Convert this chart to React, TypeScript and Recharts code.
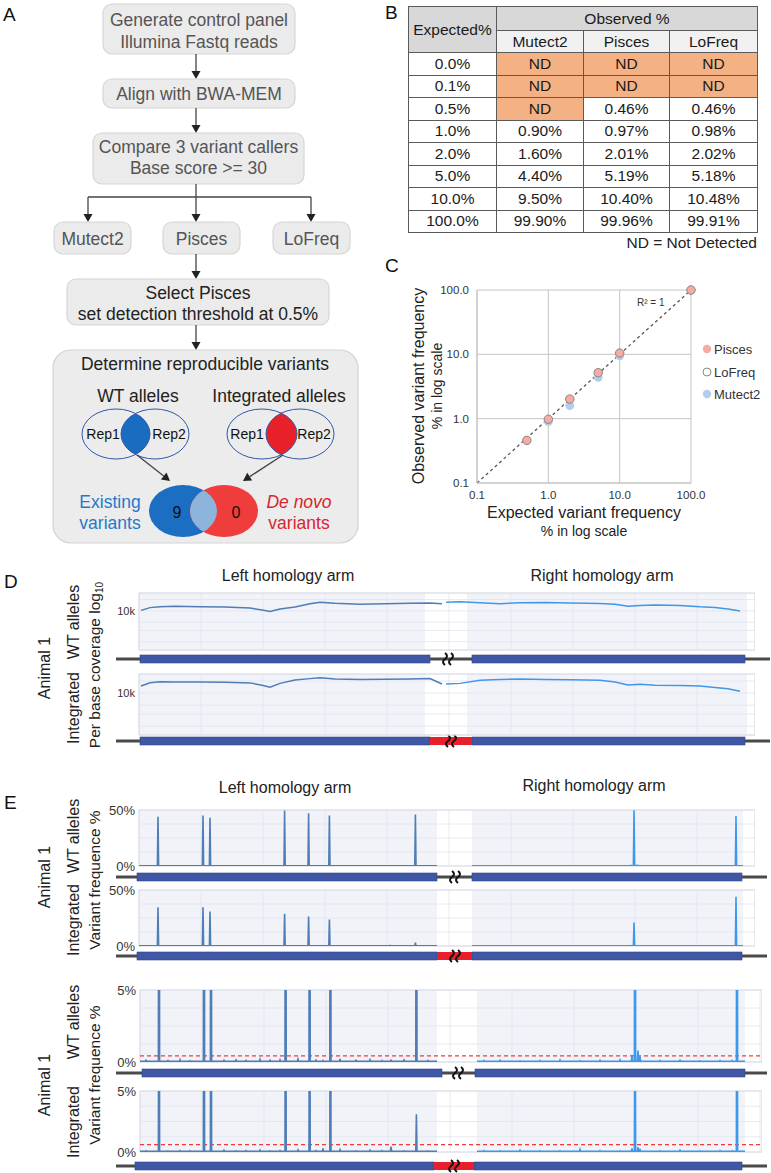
import React from 'react';
import {
  LineChart,
  Line,
  XAxis,
  YAxis,
  CartesianGrid,
  ReferenceArea,
  ReferenceLine,
  ScatterChart,
  Scatter,
} from 'recharts';

const FONT = '"Liberation Sans", Arial, Helvetica, sans-serif';
const NARROW = '"Liberation Sans Narrow", "Arial Narrow", "Liberation Sans", Arial, sans-serif';

// ---- B / C : spike-in control panel ----
const expectedPct = [0.0, 0.1, 0.5, 1.0, 2.0, 5.0, 10.0, 100.0];
const mutect2Obs = [null, null, null, 0.9, 1.6, 4.4, 9.5, 99.9];
const piscesObs = [null, null, 0.46, 0.97, 2.01, 5.19, 10.4, 99.96];
const lofreqObs = [null, null, 0.46, 0.98, 2.02, 5.18, 10.48, 99.91];
const logTicks = [0.1, 1, 10, 100];

// ---- D : per base coverage (positions in bp, coverage in thousands) ----
const covLeftPos = [10, 55, 105, 180, 305, 430, 555, 615, 655, 705, 780, 855, 905, 980, 1105, 1230, 1355, 1455, 1515];
const covWtLeftK = [10.3, 12.2, 12.9, 13.3, 12.9, 12.6, 11.9, 10.6, 9.6, 11.2, 12.6, 15.4, 17.0, 16.0, 15.1, 15.5, 16.0, 16.3, 15.6];
const covIntLeftK = [15.1, 18.2, 19.3, 19.0, 18.9, 18.7, 18.0, 15.8, 14.0, 17.5, 21.2, 23.0, 24.3, 22.4, 21.8, 22.2, 22.6, 23.0, 16.9];
const covRightPos = [1535, 1605, 1705, 1805, 1905, 2030, 2155, 2305, 2380, 2445, 2505, 2580, 2705, 2805, 2880, 2945, 3005];
const covWtRightK = [17.0, 17.6, 16.4, 15.6, 16.5, 16.8, 16.3, 15.8, 15.0, 13.2, 13.8, 14.3, 14.0, 12.8, 12.3, 11.2, 9.9];
const covIntRightK = [16.9, 17.5, 21.0, 21.8, 22.4, 22.0, 21.6, 21.0, 19.0, 15.9, 16.6, 15.8, 15.5, 15.0, 13.8, 12.8, 11.2];
const covTicks = [1500, 3000, 5000, 10000, 20000];

// ---- E : variant frequency % ----
const leftSpikePos = [95, 320, 355, 728, 848, 952, 1382];
const rightSpikePos = [2475, 2985];
const wtSpikeLeft = [44, 45, 43, 49.5, 47, 45, 46];
const wtSpikeRight = [49.7, 44.7];
const intSpikeLeft = [34.6, 34.6, 30.8, 28.8, 26.3, 23.7, 3.1];
const intSpikeRight = [21, 44];
const leftNoisePos = [30, 140, 200, 250, 420, 480, 530, 600, 650, 700, 790, 880, 915, 1000, 1080, 1150, 1210, 1255, 1320, 1440];
const wtNoiseLeft = [0.12, 0.1, 0.16, 0.09, 0.12, 0.14, 0.11, 0.18, 0.12, 0.15, 0.2, 0.13, 0.1, 0.22, 0.12, 0.16, 0.1, 0.12, 0.14, 0.1];
const intNoiseLeft = [0.1, 0.08, 0.12, 0.1, 0.14, 0.1, 0.12, 0.15, 0.1, 0.12, 0.16, 0.12, 0.3, 0.18, 0.1, 0.14, 0.12, 0.45, 0.1, 0.08];
const rightNoisePos = [1720, 1800, 1900, 2000, 2100, 2200, 2300, 2400, 2460, 2490, 2500, 2600, 2700, 2800, 2900, 2960];
const wtNoiseRight = [0.1, 0.12, 0.08, 0.1, 0.14, 0.09, 0.12, 0.15, 0.5, 0.8, 0.4, 0.1, 0.12, 0.08, 0.1, 0.1];
const intNoiseRight = [0.12, 0.1, 0.14, 0.1, 0.1, 0.22, 0.12, 0.1, 0.3, 0.4, 0.25, 0.1, 0.14, 0.1, 0.12, 0.1];
const pct50Ticks = [0, 12.5, 25, 37.5, 50];
const pct5Ticks = [0, 1.25, 2.5, 3.75, 5];
const wtThreshold = 0.42;
const intThreshold = 0.6;

const gridTicks = [0, 310, 620, 930, 1240, 1550, 1860, 2170, 2480, 2790, 3100];

const LEFT_COLOR = '#4f7db6';
const RIGHT_COLOR = '#3e98ea';

const coverage = (lk: number[], rk: number[]) => [
  ...covLeftPos.map((p, i) => ({ pos: p, left: lk[i] * 1000 })),
  ...covRightPos.map((p, i) => ({ pos: p, right: rk[i] * 1000 })),
];

function buildArm(start: number, end: number, base: number, pos: number[], val: number[], key: string) {
  const ev = pos.map((p, i) => [p, val[i]]).sort((a, b) => a[0] - b[0]);
  const out: any[] = [{ pos: start, [key]: base }];
  ev.forEach(([p, v]) => {
    out.push({ pos: p - 3, [key]: base }, { pos: p, [key]: v }, { pos: p + 3, [key]: base });
  });
  out.push({ pos: end, [key]: base });
  return out;
}

function variants(armL: number[], armR: number[], base: number, sl: number[], sr: number[], nl: number[], nr: number[]) {
  return [
    ...buildArm(armL[0], armL[1], base, [...leftSpikePos, ...leftNoisePos], [...sl, ...nl], 'left'),
    ...buildArm(armR[0], armR[1], base, [...rightSpikePos, ...rightNoisePos], [...sr, ...nr], 'right'),
  ];
}

const fmtCov = (v: number) => (v === 10000 ? '10k' : '');
const fmt50 = (v: number) => (v === 0 ? '0%' : v === 50 ? '50%' : '');
const fmt5 = (v: number) => (v === 0 ? '0%' : v === 5 ? '5%' : '');

function Track(p: any) {
  const pad = 8;
  const axisW = 44;
  const chartLeft = p.plotLeft - axisW;
  return (
    <div style={{ position: 'absolute', left: chartLeft, top: p.top - pad }}>
      <LineChart
        width={p.plotRight - chartLeft}
        height={p.height + pad * 2}
        data={p.data}
        margin={{ top: pad, right: 0, bottom: pad, left: 0 }}
      >
        <CartesianGrid stroke="#e1e5ed" strokeWidth={0.8} />
        <ReferenceArea x1={p.shadeL[0]} x2={p.shadeL[1]} fill="#dfe5f2" fillOpacity={0.45} strokeOpacity={0} />
        <ReferenceArea x1={p.shadeR[0]} x2={p.shadeR[1]} fill="#dfe5f2" fillOpacity={0.45} strokeOpacity={0} />
        <XAxis type="number" dataKey="pos" domain={[0, p.xMax]} ticks={gridTicks} hide />
        <YAxis
          type="number"
          scale={p.log ? 'log' : 'auto'}
          domain={p.yDomain}
          ticks={p.yTicks}
          tickFormatter={p.fmt}
          allowDataOverflow
          axisLine={false}
          tickLine={false}
          tickSize={3}
          tickMargin={1}
          width={axisW}
          interval={0}
          tick={{ fontSize: p.log ? 11 : 13, fill: '#333', fontFamily: p.log ? FONT : NARROW }}
        />
        {p.threshold !== undefined && (
          <ReferenceLine y={p.threshold} stroke="#f23a3a" strokeDasharray="4 3" strokeWidth={1.2} />
        )}
        <Line dataKey="left" stroke={LEFT_COLOR} strokeWidth={p.log ? 1.5 : 1.6} dot={false} isAnimationActive={false} />
        <Line dataKey="right" stroke={RIGHT_COLOR} strokeWidth={p.log ? 1.5 : 1.6} dot={false} isAnimationActive={false} />
        <ReferenceArea x1={0} x2={p.xMax} fill="none" stroke="#d8dce3" strokeWidth={1} />
      </LineChart>
    </div>
  );
}

function Arrow({ x1, y1, x2, y2 }: any) {
  const a = Math.atan2(y2 - y1, x2 - x1);
  const L = 8;
  const W = 4.5;
  const bx = x2 - L * Math.cos(a);
  const by = y2 - L * Math.sin(a);
  const px = -Math.sin(a) * W;
  const py = Math.cos(a) * W;
  return (
    <g>
      <line x1={x1} y1={y1} x2={bx} y2={by} stroke="#444" strokeWidth={1.3} />
      <polygon points={`${x2},${y2} ${bx + px},${by + py} ${bx - px},${by - py}`} fill="#222" />
    </g>
  );
}

function Box({ x, y, w, h, lines, ys, color = '#555' }: any) {
  return (
    <g>
      <rect x={x} y={y} width={w} height={h} rx={9} fill="#ebebeb" stroke="#d6d6d6" strokeWidth={1.2} />
      {lines.map((t: string, i: number) => (
        <text key={i} x={x + w / 2} y={ys[i]} textAnchor="middle" fontSize={17.5} fill={color}>
          {t}
        </text>
      ))}
    </g>
  );
}

function Squiggle({ x, y }: any) {
  const s = (dx: number) => `M${x + dx},${y - 6} q4,3 0,6 q-4,3 0,6`;
  return (
    <g fill="none" stroke="#111" strokeWidth={2}>
      <path d={s(-3)} />
      <path d={s(3)} />
    </g>
  );
}

const genomeBars = [
  { y: 659, a: 116, b: 770, l0: 140, l1: 430, r0: 472, r1: 745, ins: false, sq: 448 },
  { y: 741, a: 116, b: 770, l0: 140, l1: 430, r0: 472, r1: 745, ins: true, sq: 451 },
  { y: 877, a: 116, b: 767, l0: 137, l1: 437, r0: 472, r1: 742, ins: false, sq: 455 },
  { y: 956, a: 116, b: 767, l0: 137, l1: 437, r0: 472, r1: 742, ins: true, sq: 455 },
  { y: 1073, a: 116, b: 767, l0: 142, l1: 442, r0: 475, r1: 745, ins: false, sq: 458 },
  { y: 1166, a: 116, b: 767, l0: 135, l1: 434, r0: 474, r1: 742, ins: true, sq: 454 },
];

function RotText({ x, y, size = 16, children }: any) {
  return (
    <text x={x} y={y} transform={`rotate(-90 ${x} ${y})`} textAnchor="middle" fontSize={size} fill="#222">
      {children}
    </text>
  );
}

function Overlay() {
  return (
    <svg width={771} height={1173} style={{ position: 'absolute', left: 0, top: 0 }} fontFamily={FONT}>
      <defs>
        <clipPath id="wtR"><ellipse cx={155} cy={434} rx={34} ry={25} /></clipPath>
        <clipPath id="intR"><ellipse cx={300} cy={434} rx={34} ry={25} /></clipPath>
        <clipPath id="sumB"><ellipse cx={183} cy={511} rx={34} ry={26} /></clipPath>
      </defs>
      {/* panel labels */}
      <text x={3} y={21} fontSize={19} fill="#111">A</text>
      <text x={385} y={19} fontSize={19} fill="#111">B</text>
      <text x={385} y={272} fontSize={19} fill="#111">C</text>
      <text x={4} y={588} fontSize={19} fill="#111">D</text>
      <text x={4} y={809} fontSize={19} fill="#111">E</text>

      {/* A: workflow */}
      <Box x={103} y={4} w={192} h={50} lines={['Generate control panel', 'Illumina Fastq reads']} ys={[26, 48]} />
      <Arrow x1={196} y1={54} x2={196} y2={79} />
      <Box x={103} y={79} w={192} h={29} lines={['Align with BWA-MEM']} ys={[100]} />
      <Arrow x1={196} y1={108} x2={196} y2={133} />
      <Box x={93} y={133} w={211} h={51} lines={['Compare 3 variant callers', 'Base score >= 30']} ys={[153, 174]} />
      <line x1={196} y1={184} x2={196} y2={197} stroke="#444" strokeWidth={1.3} />
      <line x1={88} y1={197} x2={311} y2={197} stroke="#444" strokeWidth={1.3} />
      <Arrow x1={88} y1={197} x2={88} y2={222} />
      <Arrow x1={196} y1={197} x2={196} y2={222} />
      <Arrow x1={311} y1={197} x2={311} y2={222} />
      <Box x={54} y={222} w={77} h={32} lines={['Mutect2']} ys={[245]} />
      <Box x={163} y={222} w={77} h={32} lines={['Pisces']} ys={[245]} />
      <Box x={273} y={222} w={77} h={32} lines={['LoFreq']} ys={[245]} />
      <Arrow x1={196} y1={254} x2={196} y2={279} />
      <Box x={67} y={279} w={262} h={46} lines={['Select Pisces', 'set detection threshold at 0.5%']} ys={[299, 320]} color="#222" />
      <Arrow x1={196} y1={325} x2={196} y2={350} />
      <rect x={53} y={350} width={305} height={193} rx={18} fill="#ececec" stroke="#d3d3d3" strokeWidth={1.2} />
      <text x={205} y={370} textAnchor="middle" fontSize={17.5} fill="#222">Determine reproducible variants</text>
      <text x={138} y={402} textAnchor="middle" fontSize={17.5} fill="#222">WT alleles</text>
      <text x={279} y={402} textAnchor="middle" fontSize={17.5} fill="#222">Integrated alleles</text>
      {/* WT venn */}
      <ellipse cx={116} cy={434} rx={34} ry={25} fill="#1a6cc0" clipPath="url(#wtR)" />
      <ellipse cx={116} cy={434} rx={34} ry={25} fill="none" stroke="#2f58a8" strokeWidth={1} />
      <ellipse cx={155} cy={434} rx={34} ry={25} fill="none" stroke="#2f58a8" strokeWidth={1} />
      <text x={103} y={439} textAnchor="middle" fontSize={14} fill="#111">Rep1</text>
      <text x={169} y={439} textAnchor="middle" fontSize={14} fill="#111">Rep2</text>
      {/* Integrated venn */}
      <ellipse cx={262} cy={434} rx={35} ry={25} fill="#e8202a" clipPath="url(#intR)" />
      <ellipse cx={262} cy={434} rx={35} ry={25} fill="none" stroke="#2f58a8" strokeWidth={1} />
      <ellipse cx={300} cy={434} rx={34} ry={25} fill="none" stroke="#2f58a8" strokeWidth={1} />
      <text x={247} y={439} textAnchor="middle" fontSize={14} fill="#111">Rep1</text>
      <text x={314} y={439} textAnchor="middle" fontSize={14} fill="#111">Rep2</text>
      <Arrow x1={137} y1={455} x2={170} y2={481} />
      <Arrow x1={283} y1={455} x2={243} y2={481} />
      {/* summary venn */}
      <ellipse cx={183} cy={511} rx={34} ry={26} fill="#1b6ec2" />
      <ellipse cx={224} cy={511} rx={34} ry={26} fill="#ee3d3a" />
      <ellipse cx={224} cy={511} rx={34} ry={26} fill="#8db4da" clipPath="url(#sumB)" />
      <text x={177} y={518} textAnchor="middle" fontSize={16} fill="#111">9</text>
      <text x={236} y={518} textAnchor="middle" fontSize={16} fill="#111">0</text>
      <text x={110} y={508} textAnchor="middle" fontSize={17.5} fill="#1f7ac9">Existing</text>
      <text x={110} y={529} textAnchor="middle" fontSize={17.5} fill="#1f7ac9">variants</text>
      <text x={299} y={508} textAnchor="middle" fontSize={17.5} fill="#d8252e" fontStyle="italic">De novo</text>
      <text x={299} y={529} textAnchor="middle" fontSize={17.5} fill="#d8252e">variants</text>

      {/* B note */}
      <text x={757} y={248} textAnchor="end" fontSize={15.5} fill="#222">ND = Not Detected</text>

      {/* C titles and legend */}
      <RotText x={424} y={386} size={16}>Observed variant frequency</RotText>
      <RotText x={442} y={386} size={14}>% in log scale</RotText>
      <text x={584} y={518} textAnchor="middle" fontSize={16} fill="#222">Expected variant frequency</text>
      <text x={584} y={536} textAnchor="middle" fontSize={14} fill="#222">% in log scale</text>
      <text x={637} y={306} fontSize={10} fill="#333">R² = 1</text>
      <circle cx={707} cy={349} r={4.2} fill="#f6aca3" />
      <text x={714} y={354} fontSize={13} fill="#333">Pisces</text>
      <circle cx={707} cy={372} r={4} fill="none" stroke="#888" strokeWidth={1} />
      <text x={714} y={377} fontSize={13} fill="#333">LoFreq</text>
      <circle cx={707} cy={394} r={4.2} fill="#b3cdec" />
      <text x={714} y={399} fontSize={13} fill="#333">Mutect2</text>

      {/* D / E headings */}
      <text x={288} y={581} textAnchor="middle" fontSize={16} fill="#222">Left homology arm</text>
      <text x={602} y={581} textAnchor="middle" fontSize={16} fill="#222">Right homology arm</text>
      <text x={285} y={793} textAnchor="middle" fontSize={16} fill="#222">Left homology arm</text>
      <text x={594} y={791} textAnchor="middle" fontSize={16} fill="#222">Right homology arm</text>

      <RotText x={50} y={668} size={16}>Animal 1</RotText>
      <RotText x={79} y={622} size={16}>WT alleles</RotText>
      <RotText x={79} y={708} size={16}>Integrated</RotText>
      <text x={100} y={665} transform="rotate(-90 100 665)" textAnchor="middle" fontSize={15.5} fill="#222">
        Per base coverage log<tspan fontSize={10} dy={3}>10</tspan>
      </text>

      <RotText x={50} y={877} size={16}>Animal 1</RotText>
      <RotText x={79} y={836} size={16}>WT alleles</RotText>
      <RotText x={79} y={920} size={16}>Integrated</RotText>
      <RotText x={100} y={880} size={15.5}>Variant frequence %</RotText>

      <RotText x={50} y={1085} size={16}>Animal 1</RotText>
      <RotText x={79} y={1022} size={16}>WT alleles</RotText>
      <RotText x={79} y={1122} size={16}>Integrated</RotText>
      <RotText x={100} y={1075} size={15.5}>Variant frequence %</RotText>

      {/* genome schematics */}
      {genomeBars.map((g, i) => (
        <g key={i}>
          <line x1={g.a} y1={g.y} x2={g.b} y2={g.y} stroke="#4a4a4a" strokeWidth={3} />
          <rect x={g.l0} y={g.y - 4} width={g.l1 - g.l0} height={8} fill="#3f57a5" stroke="#31468a" strokeWidth={0.6} />
          <rect x={g.r0} y={g.y - 4} width={g.r1 - g.r0} height={8} fill="#3f57a5" stroke="#31468a" strokeWidth={0.6} />
          {g.ins && <rect x={g.l1} y={g.y - 4} width={g.r0 - g.l1} height={8} fill="#e8202c" />}
          <Squiggle x={g.sq} y={g.y} />
        </g>
      ))}
    </svg>
  );
}

const cell: React.CSSProperties = {
  border: '1px solid #5a5a5a',
  padding: 0,
  textAlign: 'center',
  verticalAlign: 'middle',
};

function TableB() {
  const fmtObs = (v: number | null) => (v === null ? 'ND' : `${v.toFixed(2)}%`);
  const obsCell = (v: number | null, k: string) => (
    <td key={k} style={{ ...cell, background: v === null ? '#f4b183' : '#fff' }}>{fmtObs(v)}</td>
  );
  return (
    <table
      style={{
        position: 'absolute',
        left: 408,
        top: 6,
        width: 349,
        borderCollapse: 'collapse',
        tableLayout: 'fixed',
        fontFamily: FONT,
        fontSize: 15.5,
        color: '#1a1a1a',
      }}
    >
      <colgroup>
        <col style={{ width: 88 }} />
        <col style={{ width: 87 }} />
        <col style={{ width: 86 }} />
        <col style={{ width: 88 }} />
      </colgroup>
      <tbody>
        <tr style={{ height: 24 }}>
          <td rowSpan={2} style={{ ...cell, background: '#d8d8d8' }}>Expected%</td>
          <td colSpan={3} style={{ ...cell, background: '#d8d8d8' }}>Observed %</td>
        </tr>
        <tr style={{ height: 22 }}>
          <td style={{ ...cell, background: '#f1f1f1' }}>Mutect2</td>
          <td style={{ ...cell, background: '#f1f1f1' }}>Pisces</td>
          <td style={{ ...cell, background: '#f1f1f1' }}>LoFreq</td>
        </tr>
        {expectedPct.map((e, i) => (
          <tr key={i} style={{ height: 22.5 }}>
            <td style={cell}>{e.toFixed(1)}%</td>
            {obsCell(mutect2Obs[i], 'm')}
            {obsCell(piscesObs[i], 'p')}
            {obsCell(lofreqObs[i], 'l')}
          </tr>
        ))}
      </tbody>
    </table>
  );
}

const pairs = (obs: (number | null)[]) =>
  expectedPct
    .map((x, i) => ({ x, y: obs[i] }))
    .filter((d) => d.y !== null && d.x > 0);

function ChartC() {
  const tick = { fontSize: 11.5, fill: '#333', fontFamily: FONT };
  const fmt = (v: number) => v.toFixed(1);
  return (
    <div style={{ position: 'absolute', left: 430, top: 280 }}>
      <ScatterChart width={284} height={223} margin={{ top: 10, right: 23, bottom: 0, left: 0 }}>
        <CartesianGrid stroke="#c4c4c4" />
        <XAxis
          type="number"
          dataKey="x"
          scale="log"
          domain={[0.1, 100]}
          ticks={logTicks}
          tickFormatter={fmt}
          interval={0}
          axisLine={{ stroke: '#c4c4c4' }}
          tickLine={false}
          tick={tick}
          height={20}
        />
        <YAxis
          type="number"
          dataKey="y"
          scale="log"
          domain={[0.1, 100]}
          ticks={logTicks}
          tickFormatter={fmt}
          interval={0}
          axisLine={{ stroke: '#c4c4c4' }}
          tickLine={false}
          tick={tick}
          width={47}
        />
        <ReferenceLine
          segment={[{ x: 0.1, y: 0.1 }, { x: 100, y: 100 }]}
          stroke="#555"
          strokeWidth={1.3}
          strokeDasharray="3 3"
        />
        <Scatter
          data={pairs(mutect2Obs)}
          isAnimationActive={false}
          shape={(p: any) => <circle cx={p.cx} cy={p.cy} r={4.4} fill="#b3cdec" />}
        />
        <Scatter
          data={pairs(piscesObs)}
          isAnimationActive={false}
          shape={(p: any) => <circle cx={p.cx} cy={p.cy} r={4.4} fill="#f6aca3" />}
        />
        <Scatter
          data={pairs(lofreqObs)}
          isAnimationActive={false}
          shape={(p: any) => <circle cx={p.cx} cy={p.cy} r={4.2} fill="none" stroke="#888" strokeWidth={1} />}
        />
      </ScatterChart>
    </div>
  );
}

const upperArms = { l: [0, 1490], r: [1665, 3020] };
const lowerArms = { l: [0, 1485], r: [1685, 3025] };

export default function App() {
  return (
    <div
      style={{
        position: 'absolute',
        left: 0,
        top: 0,
        width: 771,
        height: 1173,
        background: '#fff',
        fontFamily: FONT,
        overflow: 'hidden',
      }}
    >
      <Overlay />
      <TableB />
      <ChartC />

      {/* D */}
      <Track
        top={593} height={57} plotLeft={139} plotRight={755} xMax={3080}
        log yDomain={[900, 30000]} yTicks={covTicks} fmt={fmtCov}
        shadeL={[0, 1430]} shadeR={[1640, 3040]}
        data={coverage(covWtLeftK, covWtRightK)}
      />
      <Track
        top={674} height={61} plotLeft={139} plotRight={755} xMax={3080}
        log yDomain={[900, 30000]} yTicks={covTicks} fmt={fmtCov}
        shadeL={[0, 1430]} shadeR={[1640, 3040]}
        data={coverage(covIntLeftK, covIntRightK)}
      />

      {/* E, 0-50% */}
      <Track
        top={810} height={56} plotLeft={139} plotRight={755} xMax={3080}
        yDomain={[0, 50]} yTicks={pct50Ticks} fmt={fmt50}
        shadeL={upperArms.l} shadeR={upperArms.r}
        data={variants(upperArms.l, upperArms.r, 0.2, wtSpikeLeft, wtSpikeRight, wtNoiseLeft, wtNoiseRight)}
      />
      <Track
        top={890} height={56} plotLeft={139} plotRight={755} xMax={3080}
        yDomain={[0, 50]} yTicks={pct50Ticks} fmt={fmt50}
        shadeL={upperArms.l} shadeR={upperArms.r}
        data={variants(upperArms.l, upperArms.r, 0.2, intSpikeLeft, intSpikeRight, intNoiseLeft, intNoiseRight)}
      />

      {/* E, 0-5% */}
      <Track
        top={990} height={72} plotLeft={140} plotRight={762} xMax={3110}
        yDomain={[0, 5]} yTicks={pct5Ticks} fmt={fmt5} threshold={wtThreshold}
        shadeL={lowerArms.l} shadeR={lowerArms.r}
        data={variants(lowerArms.l, lowerArms.r, 0.05, wtSpikeLeft, wtSpikeRight, wtNoiseLeft, wtNoiseRight)}
      />
      <Track
        top={1091} height={61} plotLeft={140} plotRight={762} xMax={3110}
        yDomain={[0, 5]} yTicks={pct5Ticks} fmt={fmt5} threshold={intThreshold}
        shadeL={lowerArms.l} shadeR={lowerArms.r}
        data={variants(lowerArms.l, lowerArms.r, 0.05, intSpikeLeft, intSpikeRight, intNoiseLeft, intNoiseRight)}
      />
    </div>
  );
}
